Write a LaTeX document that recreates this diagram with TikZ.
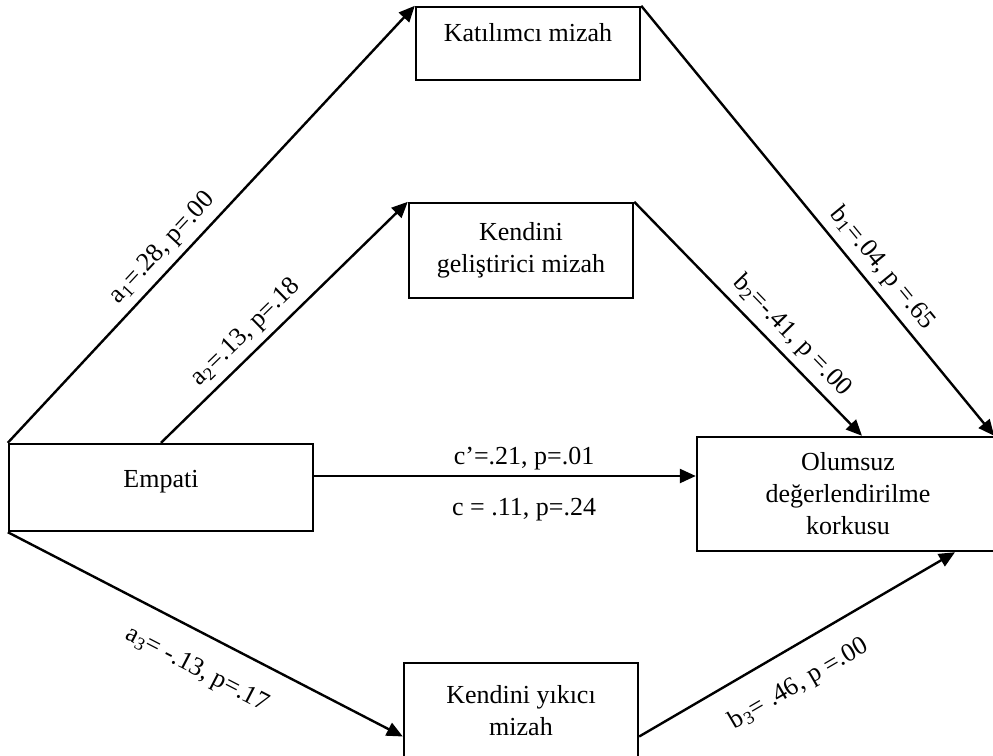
\documentclass[tikz,border=0pt]{standalone}
\usepackage{fontspec}
\setmainfont{Liberation Serif}
\usetikzlibrary{arrows.meta}

\begin{document}
\begin{tikzpicture}[x=0.5pt,y=-0.5pt,
	kutu/.style={draw,line width=1.2pt,align=center,inner sep=0pt,
		font=\fontsize{13}{16}\selectfont},
	yol/.style={line width=1.2pt,-{Triangle[length=8pt,width=7pt]}},
	etiket/.style={sloped,font=\fontsize{13}{16}\selectfont}]
		\useasboundingbox (0,0) rectangle (993,756);
		\clip (0,0) rectangle (993,756);
		% kutular
		\node[kutu,minimum width=112pt,minimum height=36.5pt,text depth=11pt] (katilimci) at (528,43.5) {Katılımcı mizah};
		\node[kutu,minimum width=112pt,minimum height=47.5pt] (gelistirici) at (521,250.5) {Kendini\\geliştirici mizah};
		\node[kutu,minimum width=117pt,minimum height=47.5pt] (yikici) at (521,710.5) {Kendini yıkıcı\\mizah};
		\node[kutu,minimum width=152pt,minimum height=43.5pt,text depth=8.5pt] (empati) at (161,487.5) {Empati};
		\node[kutu,minimum width=151pt,minimum height=57pt] (olumsuz) at (848,494) {Olumsuz\\değerlendirilme\\korkusu};
		% yollar
		\draw[yol] (empati.north west) -- node[etiket,above,pos=.415] {a\textsubscript{1}=.28, p=.00} (katilimci.north west);
		\draw[yol] (empati.north) -- node[etiket,above,pos=.40] {a\textsubscript{2}=.13, p=.18} (gelistirici.north west);
		\draw[yol] (katilimci.north east) -- node[etiket,above,pos=.64] {b\textsubscript{1}=.04, p =.65} ([xshift=-3pt]olumsuz.north east);
		\draw[yol] (gelistirici.north east) -- node[etiket,above,pos=.63] {b\textsubscript{2}=-.41, p =.00} ([xshift=7pt]olumsuz.north);
		\draw[yol] ([yshift=5.75pt]empati.east) coordinate (c0) -- node[etiket,above=-1pt,pos=.55] {c’=.21, p=.01}
			node[etiket,below=7pt,pos=.55] {c = .11, p=.24} (c0 -| olumsuz.west);
		\draw[yol] (empati.south west) -- node[etiket,below=8pt,pos=.52] {a\textsubscript{3}= -.13, p=.17} ([yshift=-13pt]yikici.west);
		\draw[yol] ([yshift=-13pt]yikici.east) -- node[etiket,below=8pt,pos=.45] {b\textsubscript{3}= .46, p =.00} ([xshift=53.5pt]olumsuz.south);
\end{tikzpicture}
\end{document}
